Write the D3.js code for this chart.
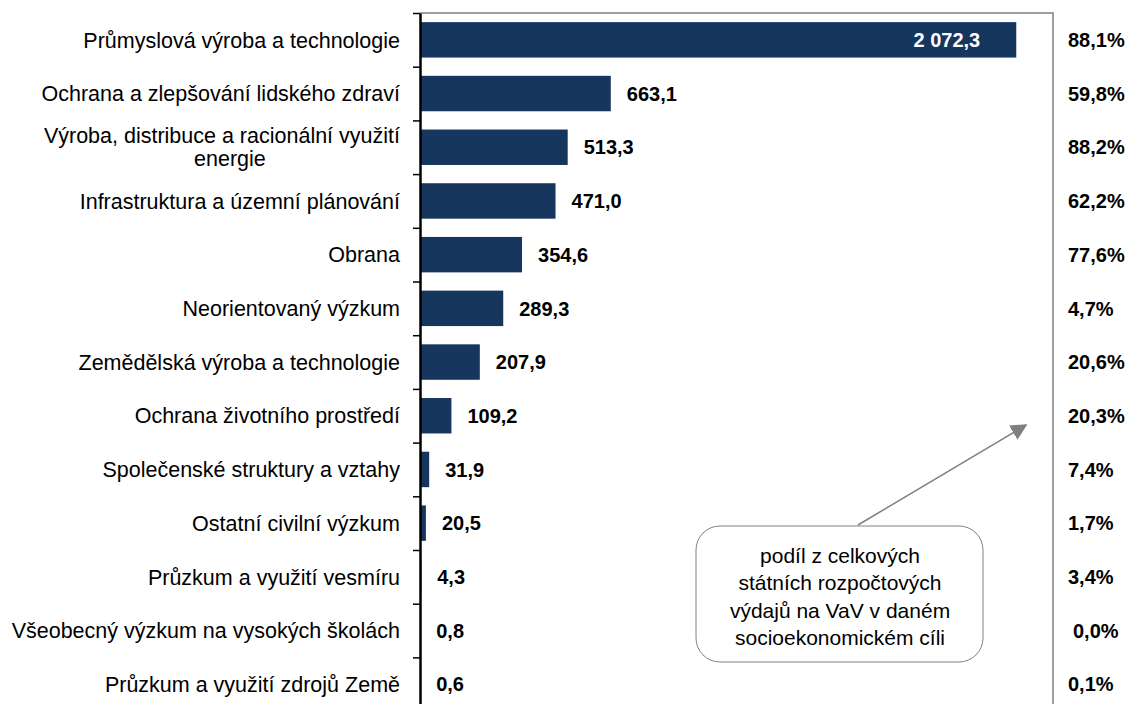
<!DOCTYPE html>
<html>
<head>
<meta charset="utf-8">
<script src="https://cdn.jsdelivr.net/npm/d3@7"></script>
<style>
  body { margin: 0; background: #fff; }
  text { font-family: "Liberation Sans", Arial, sans-serif; }
</style>
</head>
<body>
<div id="chart"></div>
<script>
// Data
var categories = [
  "Průmyslová výroba a technologie",
  "Ochrana a zlepšování lidského zdraví",
  "Výroba, distribuce a racionální využití|energie",
  "Infrastruktura a územní plánování",
  "Obrana",
  "Neorientovaný výzkum",
  "Zemědělská výroba a technologie",
  "Ochrana životního prostředí",
  "Společenské struktury a vztahy",
  "Ostatní civilní výzkum",
  "Průzkum a využití vesmíru",
  "Všeobecný výzkum na vysokých školách",
  "Průzkum a využití zdrojů Země"
];
var values = [2072.3, 663.1, 513.3, 471.0, 354.6, 289.3, 207.9, 109.2, 31.9, 20.5, 4.3, 0.8, 0.6];
var shares = [88.1, 59.8, 88.2, 62.2, 77.6, 4.7, 20.6, 20.3, 7.4, 1.7, 3.4, 0.0, 0.1];
var noteLines = ["podíl z celkových", "státních rozpočtových", "výdajů na VaV v daném", "socioekonomickém cíli"];

var W = 1131, H = 704;
var svg = d3.select("#chart").append("svg")
    .attr("width", W)
    .attr("height", H);

var x0 = 420, x1 = 1053, yTop = 13, step = 53.7;
var x = d3.scaleLinear().domain([0, 2200]).range([x0, x1]);
var y = d3.scaleBand().domain(d3.range(categories.length))
    .range([yTop, yTop + step * categories.length])
    .paddingInner(0.34).paddingOuter(0.17);

var fmt = function (v) {
  var s = v.toFixed(1).replace(".", ",");
  // mezera jako oddělovač tisíců
  return s.replace(/\B(?=(\d{3})+(?!\d))/, " ");
};

// ramecek plochy grafu (nahore a vpravo)
svg.append("path")
    .attr("d", "M" + x0 + "," + yTop + " H" + x1 + " V" + H)
    .attr("fill", "none")
    .attr("stroke", "#808080")
    .attr("stroke-width", 1.5);

// sloupce
svg.selectAll("rect.bar").data(values).enter().append("rect")
    .attr("class", "bar")
    .attr("x", x(0))
    .attr("y", function (d, i) { return y(i); })
    .attr("width", function (d) { return x(d) - x(0); })
    .attr("height", y.bandwidth())
    .attr("fill", "#17365d");

// hodnoty u sloupcu
svg.selectAll("text.val").data(values).enter().append("text")
    .attr("class", "val")
    .attr("x", function (d, i) { return i === 0 ? x(d) - 36 : x(d) + 16; })
    .attr("y", function (d, i) { return y(i) + y.bandwidth() / 2; })
    .attr("dy", "0.36em")
    .attr("text-anchor", function (d, i) { return i === 0 ? "end" : "start"; })
    .attr("fill", function (d, i) { return i === 0 ? "#fff" : "#000"; })
    .style("font-size", "20px")
    .style("font-weight", "bold")
    .text(fmt);

// podily vpravo
svg.selectAll("text.share").data(shares).enter().append("text")
    .attr("class", "share")
    .attr("x", function (d) { return d === 0 ? 1073 : 1068; })
    .attr("y", function (d, i) { return y(i) + y.bandwidth() / 2; })
    .attr("dy", "0.36em")
    .style("font-size", "20px")
    .style("font-weight", "bold")
    .text(function (d) { return d.toFixed(1).replace(".", ",") + "%"; });

// osa y
var yAxis = d3.axisLeft(d3.scaleLinear().domain([0, categories.length]).range([yTop, yTop + step * categories.length]))
    .ticks(categories.length).tickFormat("").tickSize(7).tickSizeOuter(0);
var ax = svg.append("g").attr("transform", "translate(" + x0 + ",0)").call(yAxis);
ax.select(".domain").attr("stroke", "#000").attr("stroke-width", 2.5);
ax.selectAll(".tick line").attr("stroke", "#000").attr("stroke-width", 1.5);

// popisky kategorii
categories.forEach(function (c, i) {
  var lines = c.split("|");
  var cy = y(i) + y.bandwidth() / 2;
  var lh = 23;
  var g = svg.append("g");
  var first = g.append("text")
      .attr("x", 400)
      .attr("y", cy - (lines.length - 1) * lh / 2)
      .attr("dy", "0.36em")
      .attr("text-anchor", "end")
      .style("font-size", "21.5px")
      .text(lines[0]);
  if (lines.length > 1) {
    var w = first.node().getComputedTextLength();
    g.append("text")
        .attr("x", 400 - w / 2 + 8)
        .attr("y", cy + lh / 2)
        .attr("dy", "0.36em")
        .attr("text-anchor", "middle")
        .style("font-size", "21.5px")
        .text(lines[1]);
  }
});

// popisek s sipkou
svg.append("defs").append("marker")
    .attr("id", "arrow")
    .attr("viewBox", "0 0 10 10")
    .attr("refX", 9).attr("refY", 5)
    .attr("markerWidth", 11).attr("markerHeight", 11)
    .attr("orient", "auto")
    .append("path").attr("d", "M0,0 L10,5 L0,10 Z").attr("fill", "#808080");

svg.append("line")
    .attr("x1", 858).attr("y1", 525)
    .attr("x2", 1026).attr("y2", 425)
    .attr("stroke", "#808080")
    .attr("stroke-width", 1.5)
    .attr("marker-end", "url(#arrow)");

svg.append("rect")
    .attr("x", 696).attr("y", 526)
    .attr("width", 287).attr("height", 136)
    .attr("rx", 24).attr("ry", 24)
    .attr("fill", "#fff")
    .attr("stroke", "#808080")
    .attr("stroke-width", 1);

svg.selectAll("text.note").data(noteLines).enter().append("text")
    .attr("class", "note")
    .attr("x", 840)
    .attr("y", function (d, i) { return 555 + i * 27.5; })
    .attr("dy", "0.36em")
    .attr("text-anchor", "middle")
    .style("font-size", "21px")
    .text(function (d) { return d; });
</script>
</body>
</html>
